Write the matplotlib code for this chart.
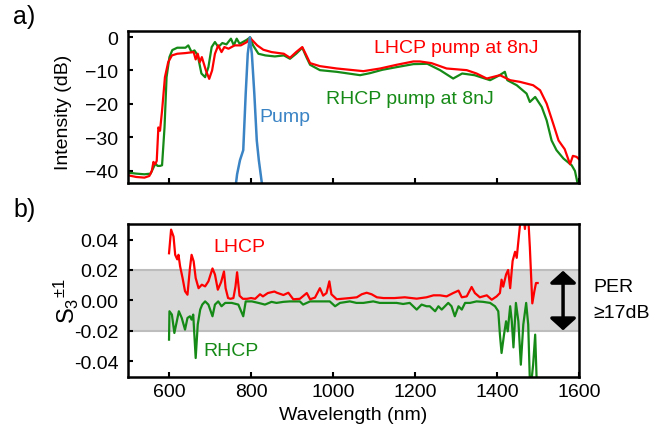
import matplotlib
matplotlib.use("Agg")
import matplotlib.pyplot as plt

plt.rcParams["font.family"] = ["Liberation Sans", "DejaVu Sans"]
plt.rcParams["mathtext.fontset"] = "custom"
plt.rcParams["mathtext.rm"] = "Liberation Sans"
plt.rcParams["mathtext.it"] = "Liberation Sans:italic"

RED = "#ff0000"
GREEN = "#168a16"
BLUE = "#3a83c4"

# a) spectra, LHCP pump (red)
wl_lhcp = [500, 520, 540, 552, 558, 562, 566, 570, 574, 578,
           583, 590, 598, 607, 620, 640, 660, 665, 670, 675,
           680, 690, 698, 705, 712, 720, 728, 735, 745, 760,
           775, 790, 798, 815, 830, 850, 880, 895, 910, 925,
           935, 944, 968, 1009, 1074, 1115, 1155, 1196, 1212, 1240,
           1277, 1326, 1350, 1375, 1407, 1432, 1456, 1488, 1505, 1521,
           1537, 1550, 1558, 1565, 1578, 1585, 1594, 1600]
int_lhcp = [-41.3, -41.8, -42, -41.5, -40, -37.3, -38, -37, -27, -28,
            -22, -12, -7.5, -5.5, -5, -4.8, -4.5, -6.7, -5, -7.5,
            -6, -10, -12.5, -10, -5, -2.5, -4.5, -3, -3.5, -2.5,
            -2.5, -1.5, -0.3, -2.5, -3.8, -4.5, -5, -6.2, -4.5, -3.0,
            -5.5, -7.8, -8.7, -9.4, -10.2, -9.4, -8.3, -7.3, -7.3, -7.8,
            -9.4, -9.9, -10.9, -12.4, -11.4, -12.9, -13.4, -14.4, -15.9, -19.9,
            -25.9, -30.9, -32.3, -33.5, -38, -35.5, -35.8, -36.5]

# a) spectra, RHCP pump (green)
wl_rhcp = [500, 520, 540, 555, 562, 567, 572, 578, 583, 589,
           594, 601, 608, 620, 640, 647, 655, 662, 670, 679,
           688, 696, 704, 712, 720, 730, 740, 751, 758, 765,
           772, 780, 790, 798, 805, 818, 835, 858, 880, 895,
           910, 925, 935, 944, 968, 1009, 1066, 1090, 1120, 1155,
           1196, 1230, 1261, 1293, 1315, 1345, 1383, 1405, 1419, 1425,
           1448, 1472, 1480, 1493, 1509, 1521, 1533, 1545, 1562, 1582,
           1590, 1596]
int_rhcp = [-40.5, -40.8, -41, -40.8, -39, -37.8, -38.5, -38.5, -38.3, -27,
            -12, -6, -3.9, -3.2, -3.2, -2.5, -4.5, -4.0, -5.5, -10.9,
            -12, -9, -3.0, -1.5, -3, -1.8, -2.2, -0.5, -2.5, -0.5,
            -2, -1.5, -0.8, -0.1, -2.5, -5.0, -5.5, -5.8, -5.5, -6.5,
            -5, -3.2, -6, -8.3, -9.9, -10.4, -11.4, -10.8, -9.8, -9.0,
            -8.1, -8.0, -9.9, -12.4, -10.9, -11.4, -12.9, -11.5, -10.4, -12.9,
            -14.4, -16.9, -19.4, -17.9, -20.9, -24.9, -30.9, -33.8, -36.3, -38.3,
            -40, -43.5]

# a) pump spectrum (blue)
wl_pump = [760, 766, 773, 781, 787, 792, 797, 802, 808, 814, 819, 830]
int_pump = [-47, -41, -36.8, -33.8, -16.9, -5.0, -0.1, -5, -16.9, -30.9, -36.8, -47]

# b) S3 deviation, LHCP
wl_s_lhcp = [600, 605, 611, 615, 620, 623, 627, 633, 639, 645,
             651, 655, 660, 665, 672, 680, 688, 696, 706, 712,
             719, 727, 734, 738, 744, 750, 757, 762, 766, 772,
             780, 790, 800, 810, 822, 829, 841, 857, 863, 879,
             891, 903, 919, 936, 944, 956, 968, 976, 984, 991,
             996, 1009, 1025, 1041, 1058, 1070, 1082, 1094, 1107, 1123,
             1150, 1175, 1204, 1228, 1245, 1261, 1277, 1293, 1306, 1314,
             1326, 1338, 1346, 1358, 1375, 1387, 1399, 1407, 1411, 1415,
             1422, 1427, 1432, 1438, 1444, 1448, 1452, 1458, 1463, 1468,
             1472, 1476, 1480, 1486, 1491, 1495, 1499]
s3_lhcp = [0.031, 0.0466, 0.042, 0.030, 0.027, 0.030, 0.0224, 0.0147, 0.006, 0.0037,
           0.0213, 0.030, 0.0257, 0.0147, 0.008, 0.0103, 0.0092, 0.0125, 0.021, 0.017,
           0.007, 0.012, 0.019, 0.008, 0.0015, 0.001, 0.0015, 0.009, 0.0185, 0.003,
           0.001, 0.001, 0.0015, 0.001, 0.004, 0.0026, 0.0048, 0.0058, 0.005, 0.0035,
           0.005, 0.0007, 0.001, 0.0048, 0.0007, 0.0018, 0.008, 0.0031, 0.0048, 0.0125,
           0.004, 0.0007, 0.0011, 0.0015, 0.002, 0.004, 0.005, 0.004, 0.002, 0.0015,
           0.0015, 0.002, 0.0011, 0.002, 0.0033, 0.0033, 0.0026, 0.0048, 0.0064, 0.002,
           0.0026, 0.0088, 0.0048, 0.002, 0.0033, 0.0004, 0.0026, 0.0048, 0.0136, 0.009,
           0.017, 0.020, 0.008, 0.026, 0.032, 0.028, 0.039, 0.055, 0.06, 0.047,
           0.058, 0.055, 0.035, -0.002, 0.006, 0.0114, 0.0114]

# b) S3 deviation, RHCP
wl_s_rhcp = [600, 601, 607, 613, 619, 624, 631, 639, 645, 651,
             655, 659, 665, 670, 676, 681, 688, 696, 706, 712,
             720, 728, 737, 753, 769, 781, 787, 802, 818, 834,
             850, 862, 879, 895, 919, 927, 944, 968, 992, 1005,
             1017, 1041, 1057, 1074, 1098, 1114, 1139, 1155, 1171, 1187,
             1204, 1216, 1228, 1236, 1249, 1257, 1265, 1273, 1281, 1289,
             1297, 1306, 1314, 1322, 1334, 1350, 1366, 1383, 1395, 1403,
             1407, 1411, 1417, 1422, 1426, 1432, 1436, 1440, 1446, 1452,
             1458, 1464, 1471, 1476, 1480, 1484, 1488, 1493, 1497, 1500]
s3_rhcp = [-0.0259, -0.0072, -0.0094, -0.0215, -0.0138, -0.0072, -0.0116, -0.0193, -0.0116, -0.0105,
           -0.0127, -0.0094, -0.038, -0.016, -0.0061, -0.0028, -0.0007, -0.0028, -0.0105, -0.0028,
           -0.0007, -0.0039, -0.0017, -0.0017, -0.0028, -0.0105, -0.0007, -0.0007, -0.0017, -0.0028,
           -0.001, -0.0017, -0.001, -0.0007, -0.0007, -0.0028, -0.0007, -0.0007, -0.0007, -0.0039,
           -0.0017, -0.0007, -0.0017, -0.0017, -0.0007, -0.0017, -0.0017, -0.0017, -0.0024, -0.0017,
           -0.0061, -0.0028, -0.0039, -0.0039, -0.0072, -0.0039, -0.0061, -0.0039, -0.0017, -0.0039,
           -0.0105, -0.0039, -0.0061, -0.0017, -0.0017, -0.0007, -0.001, -0.0017, -0.0039, -0.0072,
           -0.0226, -0.0347, -0.0226, -0.0138, -0.0204, -0.0039, -0.0138, -0.031, -0.0017, -0.0138,
           -0.0424, -0.016, -0.0017, -0.016, -0.053, -0.053, -0.0424, -0.0226, -0.056, -0.056]

xticks = [600, 800, 1000, 1200, 1400, 1600]
fs = 14

fig = plt.figure(figsize=(6.62, 4.31), dpi=100)
ax1 = fig.add_axes([0.1934, 0.5731, 0.6813, 0.3527])
ax2 = fig.add_axes([0.1934, 0.1230, 0.6813, 0.3550])

for ax in (ax1, ax2):
    for sp in ax.spines.values():
        sp.set_linewidth(1.8)
    ax.tick_params(direction="in", length=3.5, width=1.5, labelsize=fs, pad=7)
    ax.tick_params(axis="x", pad=4.5)
    ax.set_xlim(500, 1600)
    ax.set_xticks(xticks)

# panel a
ax1.plot(wl_rhcp, int_rhcp, color=GREEN, lw=1.6)
ax1.plot(wl_lhcp, int_lhcp, color=RED, lw=1.6)
ax1.plot(wl_pump, int_pump, color=BLUE, lw=1.8)
ax1.set_ylim(-43.6, 1.8)
ax1.set_yticks([0, -10, -20, -30, -40])
ax1.set_xticklabels([])
ax1.set_ylabel("Intensity (dB)", fontsize=fs)
ax1.yaxis.set_label_coords(-0.124, 0.47)
ax1.text(1100, -3.0, "LHCP pump at 8nJ", color=RED, fontsize=fs, va="center")
ax1.text(983, -18.5, "RHCP pump at 8nJ", color=GREEN, fontsize=fs, va="center")
ax1.text(820, -23.6, "Pump", color=BLUE, fontsize=fs, va="center")

# panel b
ax2.axhspan(-0.02, 0.02, facecolor="#d9d9d9", edgecolor="none", zorder=0)
ax2.axhline(0.02, color="#bdbdbd", lw=1.5, zorder=0.5)
ax2.axhline(-0.02, color="#bdbdbd", lw=1.5, zorder=0.5)
ax2.plot(wl_s_rhcp, s3_rhcp, color=GREEN, lw=1.6)
ax2.plot(wl_s_lhcp, s3_lhcp, color=RED, lw=1.6)
ax2.set_ylim(-0.0505, 0.0503)
ax2.set_yticks([0.04, 0.02, 0.0, -0.02, -0.04])
ax2.set_yticklabels(["0.04", "0.02", "0.00", "-0.02", "-0.04"])
ax2.set_xlabel("Wavelength (nm)", fontsize=fs, labelpad=4)
ax2.set_ylabel(r"S$_3$$^{\pm1}$", fontsize=17)
ax2.yaxis.set_label_coords(-0.104, 0.5)
ax2.text(707, 0.0356, "LHCP", color=RED, fontsize=fs, va="center")
ax2.text(683, -0.033, "RHCP", color=GREEN, fontsize=fs, va="center")
ax2.annotate("", xy=(1561, 0.0195), xytext=(1561, -0.0198),
             arrowprops=dict(arrowstyle="<|-|>,head_length=0.36,head_width=0.4",
                             color="black", lw=2.5, mutation_scale=20,
                             shrinkA=0, shrinkB=0))
ax2.text(1636, 0.0092, "PER", fontsize=fs, va="center", clip_on=False)
ax2.text(1636, -0.008, "\u226517dB", fontsize=fs, va="center", clip_on=False)

fig.text(0.02, 0.96, "a)", fontsize=18, va="center")
fig.text(0.02, 0.513, "b)", fontsize=18, va="center")

fig.savefig("out.png", dpi=100)
